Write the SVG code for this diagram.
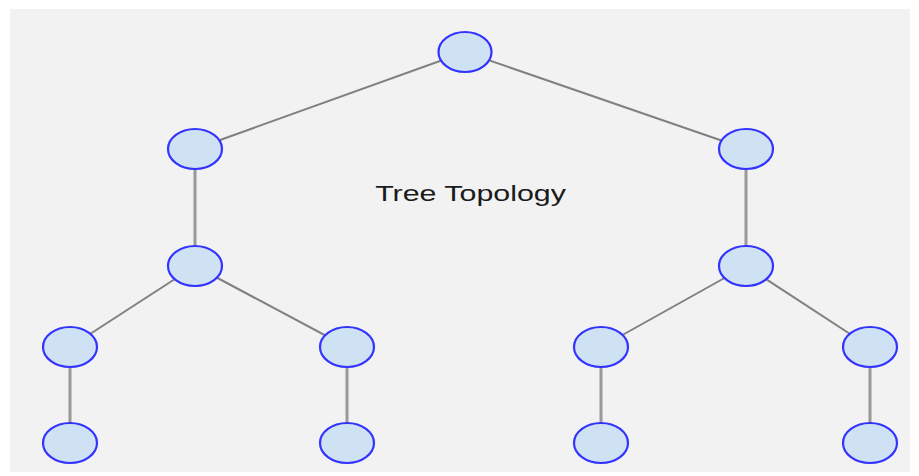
<svg xmlns="http://www.w3.org/2000/svg" width="919" height="476" viewBox="0 0 919 476">
<style>
.n{fill:#cfe2f3;stroke:#3333ff;stroke-width:2.2}
.e{stroke:#808080;stroke-width:2;fill:none}
.v{stroke:#999;stroke-width:3;fill:none}
.t{font-family:"Liberation Sans",Arial,sans-serif;font-size:22px;fill:#1a1a1a}
</style>
<rect x="0" y="0" width="919" height="476" fill="#ffffff"/>
<rect x="10" y="9" width="900" height="463" fill="#f2f2f2"/>
<g id="connectors">
<line class="e" x1="465" y1="52" x2="195" y2="149"/>
<line class="e" x1="465" y1="52" x2="746" y2="149"/>
<line class="v" x1="195" y1="149" x2="195" y2="266"/>
<line class="v" x1="746" y1="149" x2="746" y2="266"/>
<line class="e" x1="195" y1="266" x2="70" y2="347"/>
<line class="e" x1="195" y1="266" x2="347" y2="347"/>
<line class="e" x1="746" y1="266" x2="601" y2="347"/>
<line class="e" x1="746" y1="266" x2="870" y2="347"/>
<line class="v" x1="70" y1="347" x2="70" y2="443"/>
<line class="v" x1="347" y1="347" x2="347" y2="443"/>
<line class="v" x1="601" y1="347" x2="601" y2="443"/>
<line class="v" x1="870" y1="347" x2="870" y2="443"/>
</g>
<g id="root"><ellipse class="n" cx="465" cy="52" rx="26.5" ry="20"/></g>
<g id="l2a"><ellipse class="n" cx="195" cy="149" rx="27" ry="20"/></g>
<g id="l2b"><ellipse class="n" cx="746" cy="149" rx="27" ry="20"/></g>
<g id="l3a"><ellipse class="n" cx="195" cy="266" rx="27" ry="20"/></g>
<g id="l3b"><ellipse class="n" cx="746" cy="266" rx="27" ry="20"/></g>
<g id="l4a"><ellipse class="n" cx="70" cy="347" rx="27" ry="20"/></g>
<g id="l4b"><ellipse class="n" cx="347" cy="347" rx="27" ry="20"/></g>
<g id="l4c"><ellipse class="n" cx="601" cy="347" rx="27" ry="20"/></g>
<g id="l4d"><ellipse class="n" cx="870" cy="347" rx="27" ry="20"/></g>
<g id="l5a"><ellipse class="n" cx="70" cy="443" rx="27" ry="20"/></g>
<g id="l5b"><ellipse class="n" cx="347" cy="443" rx="27" ry="20"/></g>
<g id="l5c"><ellipse class="n" cx="601" cy="443" rx="27" ry="20"/></g>
<g id="l5d"><ellipse class="n" cx="870" cy="443" rx="27" ry="20"/></g>
<g id="title"><text class="t" text-anchor="middle" transform="translate(470.5,201) scale(1.38,1)">Tree Topology</text></g>
</svg>
